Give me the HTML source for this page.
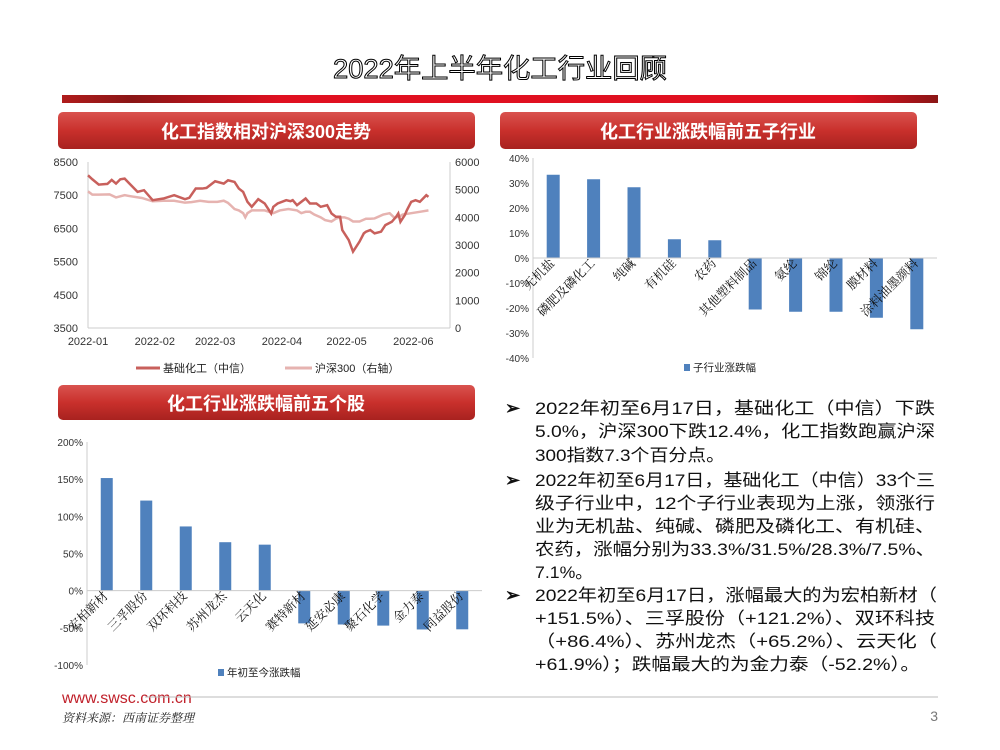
<!DOCTYPE html>
<html><head><meta charset="utf-8">
<style>
body{margin:0;width:1000px;height:750px;background:#fff;overflow:hidden;font-family:"Liberation Sans","Noto Sans CJK SC",sans-serif;}
svg{display:block}
</style></head>
<body>
<svg id="s" width="1000" height="750" viewBox="0 0 1000 750">
<defs>
<linearGradient id="hb" x1="0" y1="0" x2="0" y2="1"><stop offset="0" stop-color="#d9534f"/><stop offset="0.5" stop-color="#c9302c"/><stop offset="1" stop-color="#a8221f"/></linearGradient>
<linearGradient id="rb" x1="0" y1="0" x2="1" y2="0"><stop offset="0" stop-color="#b01c1c"/><stop offset="0.08" stop-color="#8a1616"/><stop offset="0.25" stop-color="#e01020"/><stop offset="0.9" stop-color="#e01020"/><stop offset="1" stop-color="#8a1616"/></linearGradient>
</defs>
<text x="500" y="78" text-anchor="middle" font-size="27" fill="#fff" stroke="#000" stroke-width="1" textLength="334" lengthAdjust="spacingAndGlyphs" font-family="'Liberation Sans','Noto Sans CJK SC',sans-serif">2022年上半年化工行业回顾</text>
<rect x="62" y="95" width="876" height="8" fill="url(#rb)"/>
<g><rect x="58" y="112" width="417" height="37" rx="5" fill="url(#hb)"/><text x="266" y="138" text-anchor="middle" font-size="18" font-weight="bold" fill="#fff">化工指数相对沪深300走势</text></g>
<g><rect x="500" y="112" width="417" height="37" rx="5" fill="url(#hb)"/><text x="708" y="138" text-anchor="middle" font-size="18" font-weight="bold" fill="#fff">化工行业涨跌幅前五子行业</text></g>
<g><rect x="58" y="385" width="417" height="35" rx="5" fill="url(#hb)"/><text x="266" y="410" text-anchor="middle" font-size="18" font-weight="bold" fill="#fff">化工行业涨跌幅前五个股</text></g>
<g id="c1"></g>
<g id="c2"></g>
<g id="c3"></g>
<g id="txt" font-family="'Liberation Sans','Noto Sans CJK SC',sans-serif" font-size="17" fill="#111"></g>
<text x="62" y="703" font-size="16" fill="#c0202a">www.swsc.com.cn</text>
<line x1="145" y1="697" x2="938" y2="697" stroke="#bbb" stroke-width="1"/>
<text x="62" y="722" font-size="12" font-style="italic" fill="#222" font-family="'Liberation Serif','Noto Serif CJK SC',serif">资料来源：西南证券整理</text>
<text x="938" y="721" font-size="14" fill="#777" text-anchor="end">3</text>
</svg>
<script>
const NS="http://www.w3.org/2000/svg";
function mk(p,t,a,txt){const e=document.createElementNS(NS,t);for(const k in a)e.setAttribute(k,a[k]);if(txt!==undefined)e.textContent=txt;p.appendChild(e);return e;}

// ---- chart 1 data ----
const c1Months=["2022-01","2022-02","2022-03","2022-04","2022-05","2022-06"];
const c1MonthDays=[0,31,59,90,120,151];
const c1LeftTicks=[3500,4500,5500,6500,7500,8500];
const c1RightTicks=[0,1000,2000,3000,4000,5000,6000];
const chemDays=[0,2,5,9,11,13,15,17,20,23,26,30,35,40,45,47,50,53,55,59,63,65,68,70,72,73,74,76,79,82,85,86,88,92,94,95,97,101,103,106,108,111,113,115,117,118,121,123,126,128,129,131,133,136,138,141,143,144,145,146,147,148,150,152,154,157,158];
const chemVals=[8100,7980,7820,7840,7960,7850,7980,8000,7800,7600,7650,7350,7400,7500,7380,7420,7700,7700,7720,7920,7850,7950,7900,7700,7600,7450,7300,7150,7380,7250,6950,7150,7250,7350,7320,7350,7200,7400,7250,7250,7150,7200,6950,6850,6850,6450,6150,5800,6100,6350,6400,6450,6350,6400,6600,6700,6850,6950,6700,6800,6900,7050,7300,7350,7300,7500,7450];
const hsDays=[0,2,5,10,13,17,20,25,30,35,40,45,48,52,56,60,63,65,66,68,70,72,73,74,76,79,82,86,89,93,97,99,101,103,105,108,110,113,115,117,119,121,123,126,129,131,133,137,140,142,143,145,146,150,154,158];
const hsVals=[4940,4820,4820,4830,4720,4800,4760,4700,4580,4600,4600,4530,4550,4600,4560,4560,4600,4520,4450,4300,4250,4150,4000,4150,4250,4250,4250,4150,4250,4300,4250,4150,4200,4200,4100,4000,3900,3850,3950,4000,4000,3950,3850,3850,3950,3950,3960,4100,4150,4000,4000,4050,4100,4150,4200,4250];

// ---- chart 2 data ----
const c2Cats=["无机盐","磷肥及磷化工","纯碱","有机硅","农药","其他塑料制品","氨纶","锦纶","膜材料","涂料油墨颜料"];
const c2Vals=[33.3,31.5,28.3,7.5,7.1,-20.6,-21.5,-21.5,-23.9,-28.5];
const c2Ticks=[-40,-30,-20,-10,0,10,20,30,40];
// ---- chart 3 data ----
const c3Cats=["宏柏新材","三孚股份","双环科技","苏州龙杰","云天化","赛特新材","延安必康","聚石化学","金力泰","同益股份"];
const c3Vals=[151.5,121.2,86.4,65.2,61.9,-44.0,-45.5,-47.0,-52.2,-52.0];
const c3Ticks=[-100,-50,0,50,100,150,200];

// chart 1
(function(){
const g=document.getElementById('c1');
const x0=88,x1=450,yT=162,yB=328,dMax=168;
const X=d=>x0+(d/dMax)*(x1-x0);
const YL=v=>yB-(v-3500)/5000*(yB-yT);
const YR=v=>yB-v/6000*(yB-yT);
let a=mk(g,'line',{x1:x0,y1:yT,x2:x0,y2:yB,stroke:'#ccc'});
a=mk(g,'line',{x1:x1,y1:yT,x2:x1,y2:yB,stroke:'#ccc'});
a=mk(g,'line',{x1:x0,y1:yB,x2:x1,y2:yB,stroke:'#ccc'});
c1LeftTicks.forEach(v=>{const t=mk(g,'text',{x:78,y:YL(v)+4,'text-anchor':'end','font-size':11,fill:'#333'},v);});
c1RightTicks.forEach(v=>{const t=mk(g,'text',{x:455,y:YR(v)+4,'font-size':11,fill:'#333'},v);});
c1Months.forEach((m,i)=>{const t=mk(g,'text',{x:Math.min(X(c1MonthDays[i]),437),y:345,'text-anchor':'middle','font-size':11,fill:'#333'},m);});
const p2=mk(g,'polyline',{points:hsDays.map((d,i)=>X(d)+','+YR(hsVals[i])).join(' '),fill:'none',stroke:'#e6b3b0','stroke-width':2.5});

const p1=mk(g,'polyline',{points:chemDays.map((d,i)=>X(d)+','+YL(chemVals[i])).join(' '),fill:'none',stroke:'#c8605c','stroke-width':2.5});

let l=mk(g,'g',{});
mk(l,'line',{x1:136,y1:368,x2:160,y2:368,stroke:'#c8605c','stroke-width':3});
mk(l,'text',{x:163,y:372,'font-size':11,fill:'#222'},'基础化工（中信）');
l=mk(g,'g',{});
mk(l,'line',{x1:285,y1:368,x2:312,y2:368,stroke:'#e6b3b0','stroke-width':3});
mk(l,'text',{x:315,y:372,'font-size':11,fill:'#222'},'沪深300（右轴）');
})();

function bars(id,cats,vals,ticks,o){
const g=document.getElementById(id);
const {x0,x1,yT,yB,vmin,vmax,bw,legend,lx,ly,pfx}=o;
const Y=v=>yB-(v-vmin)/(vmax-vmin)*(yB-yT);
const step=(x1-x0)/cats.length;
let a=mk(g,'line',{x1:x0,y1:yT,x2:x0,y2:yB,stroke:'#ccc'});
ticks.forEach(v=>{const t=mk(g,'text',{x:x0-4,y:Y(v)+4,'text-anchor':'end','font-size':10,fill:'#333'},v+'%');});
cats.forEach((c,i)=>{const cx=x0+step*(i+0.5),v=vals[i];
const r=mk(g,'rect',{x:cx-bw/2,y:Math.min(Y(v),Y(0)),width:bw,height:Math.abs(Y(v)-Y(0)),fill:'#4f81bd'});

});
a=mk(g,'line',{x1:x0,y1:Y(0),x2:x1,y2:Y(0),stroke:'#ccc'});
cats.forEach((c,i)=>{const cx=x0+step*(i+0.5)+2,yy=Y(0)+6;
const t=mk(g,'text',{x:cx,y:yy,'text-anchor':'end','font-size':12.5,fill:'#111','font-family':"'Liberation Serif','Noto Serif CJK SC',serif",transform:`rotate(-45 ${cx} ${yy})`},c);
});
const l=mk(g,'g',{});
mk(l,'rect',{x:lx,y:ly-7,width:6,height:7,fill:'#4f81bd'});
mk(l,'text',{x:lx+9,y:ly,'font-size':10.5,fill:'#222'},legend);
}
bars('c2',c2Cats,c2Vals,c2Ticks,{x0:533,x1:937,yT:158,yB:358,vmin:-40,vmax:40,bw:13,legend:'子行业涨跌幅',lx:684,ly:371,pfx:'subindustry'});
bars('c3',c3Cats,c3Vals,c3Ticks,{x0:87,x1:482,yT:442,yB:665,vmin:-100,vmax:200,bw:12,legend:'年初至今涨跌幅',lx:218,ly:676,pfx:'stock'});

// text
(function(){
const g=document.getElementById('txt');
const lines=[
[1,"2022年初至6月17日，基础化工（中信）下跌",408,400],
[0,"5.0%，沪深300下跌12.4%，化工指数跑赢沪深",431,400],
[0,"300指数7.3个百分点。",455,190],
[1,"2022年初至6月17日，基础化工（中信）33个三",480,400],
[0,"级子行业中，12个子行业表现为上涨，领涨行",503,400],
[0,"业为无机盐、纯碱、磷肥及磷化工、有机硅、",526,400],
[0,"农药，涨幅分别为33.3%/31.5%/28.3%/7.5%、",549,400],
[0,"7.1%。",572,58],
[1,"2022年初至6月17日，涨幅最大的为宏柏新材（",595,402],
[0,"+151.5%）、三孚股份（+121.2%）、双环科技",618,400],
[0,"（+86.4%）、苏州龙杰（+65.2%）、云天化（",641,402],
[0,"+61.9%）；跌幅最大的为金力泰（-52.2%）。",664,385]];
lines.forEach(([b,s,y,w])=>{
if(b){const m=mk(g,'text',{x:505,y:y+6,'font-size':18,'font-weight':'bold'},'➢');}
const t=mk(g,'text',{x:535,y:y+6,textLength:w,lengthAdjust:'spacingAndGlyphs'},s);

});
})();
</script>
</body></html>
